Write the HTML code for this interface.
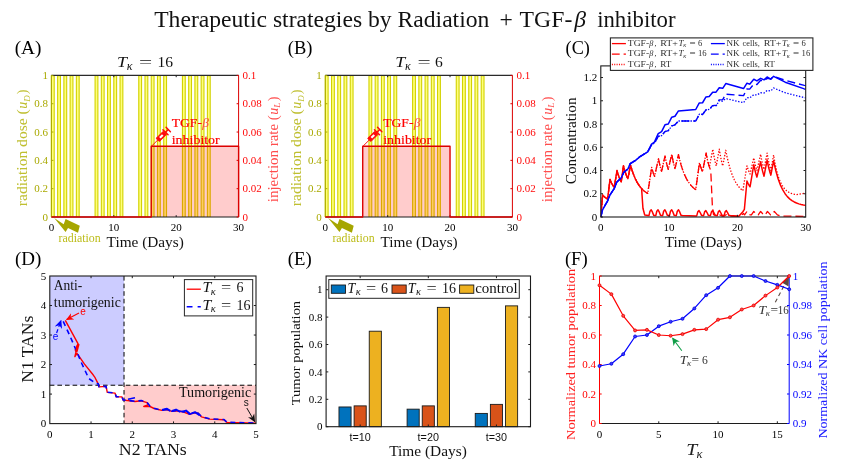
<!DOCTYPE html>
<html><head><meta charset="utf-8"><title>Therapeutic strategies by Radiation + TGF-β inhibitor</title>
<style>html,body{margin:0;padding:0;background:#fff}svg{display:block}text{white-space:pre}</style></head>
<body><svg width="843" height="468" viewBox="0 0 843 468">
<rect width="843" height="468" fill="#fff"/>
<text x="154.2" y="27.4" font-size="23.6" fill="#111" text-anchor="start" font-family='"Liberation Serif", serif' textLength="335.2" lengthAdjust="spacingAndGlyphs" >Therapeutic strategies by Radiation</text>
<text x="499.6" y="27.4" font-size="23.6" fill="#111" text-anchor="start" font-family='"Liberation Serif", serif' >+</text>
<text x="519.6" y="27.4" font-size="23.6" fill="#111" text-anchor="start" font-family='"Liberation Serif", serif' textLength="52.7" lengthAdjust="spacingAndGlyphs" >TGF-</text>
<text x="574.2" y="27.4" font-size="23.6" fill="#111" text-anchor="start" font-family='"Liberation Serif", serif' font-style="italic" >β</text>
<text x="597.2" y="27.4" font-size="23.6" fill="#111" text-anchor="start" font-family='"Liberation Serif", serif' textLength="78.3" lengthAdjust="spacingAndGlyphs" >inhibitor</text>
<path d="M51.4 217V75.8H54.21V217M57.64 217V75.8H60.45V217M63.88 217V75.8H66.69V217M70.12 217V75.8H72.93V217M76.36 217V75.8H79.17V217M95.08 217V75.8H97.89V217M101.32 217V75.8H104.13V217M107.56 217V75.8H110.37V217M113.8 217V75.8H116.61V217M120.04 217V75.8H122.85V217M138.76 217V75.8H141.57V217M145 217V75.8H147.81V217M151.24 217V75.8H154.05V217M157.48 217V75.8H160.29V217M163.72 217V75.8H166.53V217M182.44 217V75.8H185.25V217M188.68 217V75.8H191.49V217M194.92 217V75.8H197.73V217M201.16 217V75.8H203.97V217M207.4 217V75.8H210.21V217" fill="#ffff7a" stroke="#d2d200" stroke-width="1.1"/>
<rect x="151.24" y="146.2" width="87.36" height="70.8" fill="#ff0000" fill-opacity="0.2"/>
<line x1="51.4" y1="75.4" x2="238.6" y2="75.4" stroke="#2a2a2a" stroke-width="1.2" />
<line x1="51.4" y1="217" x2="238.6" y2="217" stroke="#1c1c1c" stroke-width="1" />
<line x1="51.4" y1="75.4" x2="51.4" y2="217" stroke="#a9a900" stroke-width="1" />
<line x1="238.6" y1="75.4" x2="238.6" y2="217" stroke="#dc0000" stroke-width="1" />
<line x1="113.8" y1="217" x2="113.8" y2="215.2" stroke="#1c1c1c" stroke-width="1" />
<line x1="113.8" y1="75.4" x2="113.8" y2="77.2" stroke="#1c1c1c" stroke-width="1" />
<line x1="176.2" y1="217" x2="176.2" y2="215.2" stroke="#1c1c1c" stroke-width="1" />
<line x1="176.2" y1="75.4" x2="176.2" y2="77.2" stroke="#1c1c1c" stroke-width="1" />
<line x1="51.4" y1="217" x2="53.4" y2="217" stroke="#a9a900" stroke-width="1" />
<line x1="238.6" y1="217" x2="236.6" y2="217" stroke="#dc0000" stroke-width="1" />
<line x1="51.4" y1="188.68" x2="53.4" y2="188.68" stroke="#a9a900" stroke-width="1" />
<line x1="238.6" y1="188.68" x2="236.6" y2="188.68" stroke="#dc0000" stroke-width="1" />
<line x1="51.4" y1="160.36" x2="53.4" y2="160.36" stroke="#a9a900" stroke-width="1" />
<line x1="238.6" y1="160.36" x2="236.6" y2="160.36" stroke="#dc0000" stroke-width="1" />
<line x1="51.4" y1="132.04" x2="53.4" y2="132.04" stroke="#a9a900" stroke-width="1" />
<line x1="238.6" y1="132.04" x2="236.6" y2="132.04" stroke="#dc0000" stroke-width="1" />
<line x1="51.4" y1="103.72" x2="53.4" y2="103.72" stroke="#a9a900" stroke-width="1" />
<line x1="238.6" y1="103.72" x2="236.6" y2="103.72" stroke="#dc0000" stroke-width="1" />
<line x1="51.4" y1="75.4" x2="53.4" y2="75.4" stroke="#a9a900" stroke-width="1" />
<line x1="238.6" y1="75.4" x2="236.6" y2="75.4" stroke="#dc0000" stroke-width="1" />
<polyline points="51.4,217 151.24,217 151.24,146.2 238.6,146.2 238.6,217 238.6,217" fill="none" stroke="#dc0000" stroke-width="1.4" stroke-linejoin="round" />
<text x="51.4" y="231.1" font-size="11" fill="#000" text-anchor="middle" font-family='"Liberation Serif", serif' >0</text>
<text x="113.8" y="231.1" font-size="11" fill="#000" text-anchor="middle" font-family='"Liberation Serif", serif' >10</text>
<text x="176.2" y="231.1" font-size="11" fill="#000" text-anchor="middle" font-family='"Liberation Serif", serif' >20</text>
<text x="238.6" y="231.1" font-size="11" fill="#000" text-anchor="middle" font-family='"Liberation Serif", serif' >30</text>
<text x="47.9" y="220.7" font-size="11" fill="#a9a900" text-anchor="end" font-family='"Liberation Serif", serif' >0</text>
<text x="47.9" y="192.38" font-size="11" fill="#a9a900" text-anchor="end" font-family='"Liberation Serif", serif' >0.2</text>
<text x="47.9" y="164.06" font-size="11" fill="#a9a900" text-anchor="end" font-family='"Liberation Serif", serif' >0.4</text>
<text x="47.9" y="135.74" font-size="11" fill="#a9a900" text-anchor="end" font-family='"Liberation Serif", serif' >0.6</text>
<text x="47.9" y="107.42" font-size="11" fill="#a9a900" text-anchor="end" font-family='"Liberation Serif", serif' >0.8</text>
<text x="47.9" y="79.1" font-size="11" fill="#a9a900" text-anchor="end" font-family='"Liberation Serif", serif' >1</text>
<text x="242.6" y="220.7" font-size="11" fill="#ff0a0a" text-anchor="start" font-family='"Liberation Serif", serif' >0</text>
<text x="242.6" y="192.38" font-size="11" fill="#ff0a0a" text-anchor="start" font-family='"Liberation Serif", serif' >0.02</text>
<text x="242.6" y="164.06" font-size="11" fill="#ff0a0a" text-anchor="start" font-family='"Liberation Serif", serif' >0.04</text>
<text x="242.6" y="135.74" font-size="11" fill="#ff0a0a" text-anchor="start" font-family='"Liberation Serif", serif' >0.06</text>
<text x="242.6" y="107.42" font-size="11" fill="#ff0a0a" text-anchor="start" font-family='"Liberation Serif", serif' >0.08</text>
<text x="242.6" y="79.1" font-size="11" fill="#ff0a0a" text-anchor="start" font-family='"Liberation Serif", serif' >0.1</text>
<text x="106.6" y="246.6" font-size="14" fill="#111" text-anchor="start" font-family='"Liberation Serif", serif' textLength="77.2" lengthAdjust="spacingAndGlyphs" >Time (Days)</text>
<g transform="translate(22.9 144.7) rotate(-90)">
<text x="-61.5" y="4.5" font-size="14" fill="#bfbf30" text-anchor="start" font-family='"Liberation Serif", serif' textLength="97" lengthAdjust="spacingAndGlyphs" >radiation dose (</text>
<text x="36" y="4.5" font-size="14" fill="#bfbf30" text-anchor="start" font-family='"Liberation Serif", serif' font-style="italic" >u</text>
<text x="43" y="7" font-size="9" fill="#bfbf30" text-anchor="start" font-family='"Liberation Serif", serif' font-style="italic" >D</text>
<text x="50.5" y="4.5" font-size="14" fill="#bfbf30" text-anchor="start" font-family='"Liberation Serif", serif' >)</text>
</g>
<g transform="translate(273.2 146.2) rotate(-90)">
<text x="-56" y="4.5" font-size="14" fill="#ff4d4d" text-anchor="start" font-family='"Liberation Serif", serif' textLength="87" lengthAdjust="spacingAndGlyphs" >injection rate (</text>
<text x="31.5" y="4.5" font-size="14" fill="#ff4d4d" text-anchor="start" font-family='"Liberation Serif", serif' font-style="italic" >u</text>
<text x="38.5" y="7" font-size="9" fill="#ff4d4d" text-anchor="start" font-family='"Liberation Serif", serif' font-style="italic" >L</text>
<text x="45" y="4.5" font-size="14" fill="#ff4d4d" text-anchor="start" font-family='"Liberation Serif", serif' >)</text>
</g>
<text x="14.7" y="53.6" font-size="18" fill="#000" text-anchor="start" font-family='"Liberation Serif", serif' textLength="26.8" lengthAdjust="spacingAndGlyphs" >(A)</text>
<text x="117" y="66.8" font-size="15.5" fill="#111" text-anchor="start" font-family='"Liberation Serif", serif' font-style="italic" textLength="10" lengthAdjust="spacingAndGlyphs" >T</text>
<text x="126.8" y="69.6" font-size="12" fill="#111" text-anchor="start" font-family='"Liberation Serif", serif' font-style="italic" >κ</text>
<text x="139.1" y="66.8" font-size="15.5" fill="#111" text-anchor="start" font-family='"Liberation Serif", serif' textLength="13.2" lengthAdjust="spacingAndGlyphs" >=</text>
<text x="157.6" y="66.8" font-size="15.5" fill="#111" text-anchor="start" font-family='"Liberation Serif", serif' >16</text>
<polygon points="54.2,218.1 63.7,224.2 65.6,219 79.8,225.7 78,232.8 68,228 65.6,232" fill="#a6a600"/>
<text x="58.5" y="242.3" font-size="12" fill="#bcbc18" text-anchor="start" font-family='"Liberation Serif", serif' textLength="42.2" lengthAdjust="spacingAndGlyphs" >radiation</text>
<text x="171.74" y="127.4" font-size="13.5" fill="#ff0000" text-anchor="start" font-family='"Liberation Serif", serif' textLength="30.2" lengthAdjust="spacingAndGlyphs" stroke="#ff0000" stroke-width="0.2">TGF-</text>
<text x="202.34" y="127.4" font-size="13.5" fill="#ff4a4a" text-anchor="start" font-family='"Liberation Serif", serif' font-style="italic" >β</text>
<text x="171.74" y="143.5" font-size="13.5" fill="#ff0000" text-anchor="start" font-family='"Liberation Serif", serif' textLength="48" lengthAdjust="spacingAndGlyphs" stroke="#ff0000" stroke-width="0.2">inhibitor</text>
<g transform="translate(151.94 145.8) rotate(-45) scale(0.9)" stroke="#ff0a0a" fill="none" stroke-linecap="round">
<line x1="0" y1="0" x2="9" y2="0" stroke-width="1"/>
<rect x="9" y="-2.6" width="11.5" height="5.2" rx="1" fill="#ff0a0a" stroke-width="0.8"/>
<rect x="12.5" y="-1.2" width="4.5" height="2.4" fill="#fff" stroke="none"/>
<line x1="21.3" y1="-4" x2="21.3" y2="4" stroke-width="1.6"/>
<line x1="21.3" y1="0" x2="25.3" y2="0" stroke-width="1.6"/>
<line x1="25.6" y1="-3.4" x2="25.6" y2="3.4" stroke-width="1.6"/>
</g>
<path d="M325.3 217V75.8H328.11V217M331.54 217V75.8H334.34V217M337.77 217V75.8H340.58V217M344.01 217V75.8H346.82V217M350.25 217V75.8H353.05V217M368.96 217V75.8H371.76V217M375.19 217V75.8H378V217M381.43 217V75.8H384.24V217M387.67 217V75.8H390.47V217M393.9 217V75.8H396.71V217M412.61 217V75.8H415.42V217M418.85 217V75.8H421.66V217M425.09 217V75.8H427.89V217M431.32 217V75.8H434.13V217M437.56 217V75.8H440.37V217M456.27 217V75.8H459.08V217M462.51 217V75.8H465.31V217M468.74 217V75.8H471.55V217M474.98 217V75.8H477.79V217M481.22 217V75.8H484.02V217" fill="#ffff7a" stroke="#d2d200" stroke-width="1.1"/>
<rect x="362.72" y="146.2" width="87.31" height="70.8" fill="#ff0000" fill-opacity="0.2"/>
<line x1="325.3" y1="75.4" x2="512.4" y2="75.4" stroke="#2a2a2a" stroke-width="1.2" />
<line x1="325.3" y1="217" x2="512.4" y2="217" stroke="#1c1c1c" stroke-width="1" />
<line x1="325.3" y1="75.4" x2="325.3" y2="217" stroke="#a9a900" stroke-width="1" />
<line x1="512.4" y1="75.4" x2="512.4" y2="217" stroke="#dc0000" stroke-width="1" />
<line x1="387.67" y1="217" x2="387.67" y2="215.2" stroke="#1c1c1c" stroke-width="1" />
<line x1="387.67" y1="75.4" x2="387.67" y2="77.2" stroke="#1c1c1c" stroke-width="1" />
<line x1="450.03" y1="217" x2="450.03" y2="215.2" stroke="#1c1c1c" stroke-width="1" />
<line x1="450.03" y1="75.4" x2="450.03" y2="77.2" stroke="#1c1c1c" stroke-width="1" />
<line x1="325.3" y1="217" x2="327.3" y2="217" stroke="#a9a900" stroke-width="1" />
<line x1="512.4" y1="217" x2="510.4" y2="217" stroke="#dc0000" stroke-width="1" />
<line x1="325.3" y1="188.68" x2="327.3" y2="188.68" stroke="#a9a900" stroke-width="1" />
<line x1="512.4" y1="188.68" x2="510.4" y2="188.68" stroke="#dc0000" stroke-width="1" />
<line x1="325.3" y1="160.36" x2="327.3" y2="160.36" stroke="#a9a900" stroke-width="1" />
<line x1="512.4" y1="160.36" x2="510.4" y2="160.36" stroke="#dc0000" stroke-width="1" />
<line x1="325.3" y1="132.04" x2="327.3" y2="132.04" stroke="#a9a900" stroke-width="1" />
<line x1="512.4" y1="132.04" x2="510.4" y2="132.04" stroke="#dc0000" stroke-width="1" />
<line x1="325.3" y1="103.72" x2="327.3" y2="103.72" stroke="#a9a900" stroke-width="1" />
<line x1="512.4" y1="103.72" x2="510.4" y2="103.72" stroke="#dc0000" stroke-width="1" />
<line x1="325.3" y1="75.4" x2="327.3" y2="75.4" stroke="#a9a900" stroke-width="1" />
<line x1="512.4" y1="75.4" x2="510.4" y2="75.4" stroke="#dc0000" stroke-width="1" />
<polyline points="325.3,217 362.72,217 362.72,146.2 450.03,146.2 450.03,217 512.4,217" fill="none" stroke="#dc0000" stroke-width="1.4" stroke-linejoin="round" />
<text x="325.3" y="231.1" font-size="11" fill="#000" text-anchor="middle" font-family='"Liberation Serif", serif' >0</text>
<text x="387.67" y="231.1" font-size="11" fill="#000" text-anchor="middle" font-family='"Liberation Serif", serif' >10</text>
<text x="450.03" y="231.1" font-size="11" fill="#000" text-anchor="middle" font-family='"Liberation Serif", serif' >20</text>
<text x="512.4" y="231.1" font-size="11" fill="#000" text-anchor="middle" font-family='"Liberation Serif", serif' >30</text>
<text x="321.8" y="220.7" font-size="11" fill="#a9a900" text-anchor="end" font-family='"Liberation Serif", serif' >0</text>
<text x="321.8" y="192.38" font-size="11" fill="#a9a900" text-anchor="end" font-family='"Liberation Serif", serif' >0.2</text>
<text x="321.8" y="164.06" font-size="11" fill="#a9a900" text-anchor="end" font-family='"Liberation Serif", serif' >0.4</text>
<text x="321.8" y="135.74" font-size="11" fill="#a9a900" text-anchor="end" font-family='"Liberation Serif", serif' >0.6</text>
<text x="321.8" y="107.42" font-size="11" fill="#a9a900" text-anchor="end" font-family='"Liberation Serif", serif' >0.8</text>
<text x="321.8" y="79.1" font-size="11" fill="#a9a900" text-anchor="end" font-family='"Liberation Serif", serif' >1</text>
<text x="516.4" y="220.7" font-size="11" fill="#ff0a0a" text-anchor="start" font-family='"Liberation Serif", serif' >0</text>
<text x="516.4" y="192.38" font-size="11" fill="#ff0a0a" text-anchor="start" font-family='"Liberation Serif", serif' >0.02</text>
<text x="516.4" y="164.06" font-size="11" fill="#ff0a0a" text-anchor="start" font-family='"Liberation Serif", serif' >0.04</text>
<text x="516.4" y="135.74" font-size="11" fill="#ff0a0a" text-anchor="start" font-family='"Liberation Serif", serif' >0.06</text>
<text x="516.4" y="107.42" font-size="11" fill="#ff0a0a" text-anchor="start" font-family='"Liberation Serif", serif' >0.08</text>
<text x="516.4" y="79.1" font-size="11" fill="#ff0a0a" text-anchor="start" font-family='"Liberation Serif", serif' >0.1</text>
<text x="380.5" y="246.6" font-size="14" fill="#111" text-anchor="start" font-family='"Liberation Serif", serif' textLength="77.2" lengthAdjust="spacingAndGlyphs" >Time (Days)</text>
<g transform="translate(296.8 144.7) rotate(-90)">
<text x="-61.5" y="4.5" font-size="14" fill="#bfbf30" text-anchor="start" font-family='"Liberation Serif", serif' textLength="97" lengthAdjust="spacingAndGlyphs" >radiation dose (</text>
<text x="36" y="4.5" font-size="14" fill="#bfbf30" text-anchor="start" font-family='"Liberation Serif", serif' font-style="italic" >u</text>
<text x="43" y="7" font-size="9" fill="#bfbf30" text-anchor="start" font-family='"Liberation Serif", serif' font-style="italic" >D</text>
<text x="50.5" y="4.5" font-size="14" fill="#bfbf30" text-anchor="start" font-family='"Liberation Serif", serif' >)</text>
</g>
<g transform="translate(547 146.2) rotate(-90)">
<text x="-56" y="4.5" font-size="14" fill="#ff4d4d" text-anchor="start" font-family='"Liberation Serif", serif' textLength="87" lengthAdjust="spacingAndGlyphs" >injection rate (</text>
<text x="31.5" y="4.5" font-size="14" fill="#ff4d4d" text-anchor="start" font-family='"Liberation Serif", serif' font-style="italic" >u</text>
<text x="38.5" y="7" font-size="9" fill="#ff4d4d" text-anchor="start" font-family='"Liberation Serif", serif' font-style="italic" >L</text>
<text x="45" y="4.5" font-size="14" fill="#ff4d4d" text-anchor="start" font-family='"Liberation Serif", serif' >)</text>
</g>
<text x="287.8" y="53.6" font-size="18" fill="#000" text-anchor="start" font-family='"Liberation Serif", serif' textLength="24.6" lengthAdjust="spacingAndGlyphs" >(B)</text>
<text x="395.3" y="66.8" font-size="15.5" fill="#111" text-anchor="start" font-family='"Liberation Serif", serif' font-style="italic" textLength="10" lengthAdjust="spacingAndGlyphs" >T</text>
<text x="405.1" y="69.6" font-size="12" fill="#111" text-anchor="start" font-family='"Liberation Serif", serif' font-style="italic" >κ</text>
<text x="417.4" y="66.8" font-size="15.5" fill="#111" text-anchor="start" font-family='"Liberation Serif", serif' textLength="13.2" lengthAdjust="spacingAndGlyphs" >=</text>
<text x="435" y="66.8" font-size="15.5" fill="#111" text-anchor="start" font-family='"Liberation Serif", serif' >6</text>
<polygon points="328.1,218.1 337.6,224.2 339.5,219 353.7,225.7 351.9,232.8 341.9,228 339.5,232" fill="#a6a600"/>
<text x="332.4" y="242.3" font-size="12" fill="#bcbc18" text-anchor="start" font-family='"Liberation Serif", serif' textLength="42.2" lengthAdjust="spacingAndGlyphs" >radiation</text>
<text x="383.22" y="127.4" font-size="13.5" fill="#ff0000" text-anchor="start" font-family='"Liberation Serif", serif' textLength="30.2" lengthAdjust="spacingAndGlyphs" stroke="#ff0000" stroke-width="0.2">TGF-</text>
<text x="413.82" y="127.4" font-size="13.5" fill="#ff4a4a" text-anchor="start" font-family='"Liberation Serif", serif' font-style="italic" >β</text>
<text x="383.22" y="143.5" font-size="13.5" fill="#ff0000" text-anchor="start" font-family='"Liberation Serif", serif' textLength="48" lengthAdjust="spacingAndGlyphs" stroke="#ff0000" stroke-width="0.2">inhibitor</text>
<g transform="translate(363.42 145.8) rotate(-45) scale(0.9)" stroke="#ff0a0a" fill="none" stroke-linecap="round">
<line x1="0" y1="0" x2="9" y2="0" stroke-width="1"/>
<rect x="9" y="-2.6" width="11.5" height="5.2" rx="1" fill="#ff0a0a" stroke-width="0.8"/>
<rect x="12.5" y="-1.2" width="4.5" height="2.4" fill="#fff" stroke="none"/>
<line x1="21.3" y1="-4" x2="21.3" y2="4" stroke-width="1.6"/>
<line x1="21.3" y1="0" x2="25.3" y2="0" stroke-width="1.6"/>
<line x1="25.6" y1="-3.4" x2="25.6" y2="3.4" stroke-width="1.6"/>
</g>
<clipPath id="cc"><rect x="600.8" y="65.9" width="204.9" height="152.1"/></clipPath><g clip-path="url(#cc)">
<polyline points="600.8,217 602.64,194.92 603,195.34 603.36,195.74 603.71,196.11 604.07,196.46 604.42,196.79 604.78,197.1 605.14,197.39 605.49,197.66 605.85,197.92 606.21,198.16 606.56,198.38 606.92,198.6 607.27,198.8 607.63,198.98 610.02,179.46 610.32,180.24 610.63,180.98 610.93,181.68 611.23,182.34 611.53,182.97 611.84,183.57 612.14,184.14 612.44,184.67 612.74,185.18 613.05,185.67 613.35,186.12 613.65,186.56 613.95,186.97 614.26,187.36 616.99,170.51 617.29,171.62 617.59,172.67 617.89,173.67 618.2,174.62 618.5,175.52 618.8,176.37 619.1,177.18 619.41,177.95 619.71,178.67 620.01,179.36 620.31,180.02 620.62,180.64 620.92,181.22 621.22,181.78 623.48,165.86 623.79,167.14 624.11,168.35 624.43,169.49 624.74,170.57 625.06,171.6 625.38,172.57 625.7,173.48 626.01,174.35 626.33,175.17 626.65,175.94 626.96,176.68 627.28,177.37 627.6,178.02 627.92,178.64 630.58,165.28 631.8,169.45 633.03,173.1 634.25,176.29 635.48,179.08 636.7,181.52 637.93,183.65 639.15,185.51 640.37,187.14 641.6,188.56 642.82,189.81 644.05,190.9 645.27,191.85 646.5,192.68 647.72,193.41 651.68,167.49 651.89,168.27 652.09,169.04 652.3,169.77 652.5,170.48 652.71,171.16 652.91,171.82 653.12,172.46 653.32,173.07 653.53,173.66 653.73,174.23 653.94,174.78 654.14,175.31 654.35,175.83 654.55,176.32 658.51,158.88 658.73,160.01 658.95,161.1 659.17,162.14 659.39,163.15 659.61,164.11 659.83,165.04 660.05,165.94 660.27,166.8 660.49,167.63 660.71,168.42 660.93,169.19 661.15,169.93 661.37,170.64 661.59,171.32 665,155.98 665.24,157.21 665.47,158.39 665.7,159.52 665.94,160.61 666.17,161.65 666.41,162.66 666.64,163.62 666.88,164.54 667.11,165.43 667.34,166.28 667.58,167.09 667.81,167.87 668.05,168.62 668.28,169.35 671.76,154.24 671.99,155.54 672.22,156.8 672.45,158.01 672.68,159.17 672.91,160.29 673.14,161.36 673.37,162.38 673.6,163.37 673.83,164.32 674.06,165.23 674.29,166.11 674.52,166.95 674.74,167.76 674.97,168.53 678.46,154.7 679.69,159.9 680.93,164.44 682.16,168.4 683.39,171.87 684.63,174.89 685.86,177.53 687.1,179.84 688.33,181.85 689.57,183.61 690.8,185.14 692.03,186.48 693.27,187.65 694.5,188.68 695.74,189.57 699.49,162.72 699.71,163.53 699.93,164.31 700.15,165.06 700.37,165.79 700.59,166.48 700.81,167.15 701.03,167.8 701.25,168.42 701.47,169.01 701.69,169.58 701.91,170.14 702.13,170.67 702.35,171.18 702.57,171.67 706.12,153.07 706.35,154.36 706.59,155.59 706.82,156.77 707.06,157.91 707.29,159 707.52,160.04 707.76,161.04 707.99,162.01 708.23,162.93 708.46,163.82 708.69,164.67 708.93,165.48 709.16,166.27 709.4,167.02 712.81,149.24 713.06,150.78 713.3,152.26 713.54,153.68 713.79,155.04 714.03,156.34 714.28,157.59 714.52,158.79 714.76,159.93 715.01,161.03 715.25,162.08 715.5,163.08 715.74,164.05 715.98,164.97 716.23,165.86 719.3,149.24 719.54,150.78 719.79,152.26 720.03,153.68 720.28,155.04 720.52,156.34 720.76,157.59 721.01,158.79 721.25,159.93 721.5,161.03 721.74,162.08 721.98,163.08 722.23,164.05 722.47,164.97 722.72,165.86 725.79,150.28 727.01,156.49 728.23,161.88 729.45,166.54 730.67,170.59 731.89,174.09 733.11,177.13 734.33,179.77 735.55,182.05 736.77,184.03 737.99,185.75 739.21,187.24 740.42,188.53 741.64,189.65 742.86,190.62 746.96,165.86 747.18,166.6 747.4,167.31 747.62,167.99 747.84,168.65 748.06,169.28 748.28,169.89 748.5,170.47 748.72,171.04 748.94,171.58 749.16,172.1 749.38,172.6 749.6,173.08 749.82,173.55 750.04,173.99 753.79,157.95 754.02,159.1 754.24,160.2 754.47,161.26 754.69,162.27 754.91,163.25 755.14,164.19 755.36,165.09 755.59,165.96 755.81,166.79 756.04,167.6 756.26,168.37 756.48,169.11 756.71,169.82 756.93,170.51 760.62,154.24 760.87,155.64 761.11,156.99 761.35,158.28 761.6,159.51 761.84,160.69 762.09,161.83 762.33,162.92 762.57,163.96 762.82,164.95 763.06,165.91 763.31,166.82 763.55,167.7 763.79,168.54 764.04,169.35 767.11,153.07 767.38,154.73 767.65,156.32 767.92,157.83 768.18,159.27 768.45,160.65 768.72,161.96 768.99,163.22 769.26,164.41 769.53,165.55 769.79,166.64 770.06,167.67 770.33,168.66 770.6,169.61 770.87,170.51 773.6,155.05 775.21,164.35 776.82,171.52 778.43,177.06 780.04,181.33 781.65,184.63 783.26,187.17 784.87,189.13 786.48,190.65 788.09,191.82 789.7,192.72 791.31,193.41 792.92,193.95 794.53,194.36 796.14,194.68 805.7,193.17" fill="none" stroke="#ff0000" stroke-width="1.3" stroke-linejoin="round" stroke-dasharray="1.4 1.6" />
<polyline points="600.8,217 602.64,194.92 603,195.34 603.36,195.74 603.71,196.11 604.07,196.46 604.42,196.79 604.78,197.1 605.14,197.39 605.49,197.66 605.85,197.92 606.21,198.16 606.56,198.38 606.92,198.6 607.27,198.8 607.63,198.98 610.02,179.46 610.32,180.24 610.63,180.98 610.93,181.68 611.23,182.34 611.53,182.97 611.84,183.57 612.14,184.14 612.44,184.67 612.74,185.18 613.05,185.67 613.35,186.12 613.65,186.56 613.95,186.97 614.26,187.36 616.99,170.51 617.29,171.62 617.59,172.67 617.89,173.67 618.2,174.62 618.5,175.52 618.8,176.37 619.1,177.18 619.41,177.95 619.71,178.67 620.01,179.36 620.31,180.02 620.62,180.64 620.92,181.22 621.22,181.78 623.48,165.86 623.79,167.14 624.11,168.35 624.43,169.49 624.74,170.57 625.06,171.6 625.38,172.57 625.7,173.48 626.01,174.35 626.33,175.17 626.65,175.94 626.96,176.68 627.28,177.37 627.6,178.02 627.92,178.64 630.58,165.28 631.8,169.45 633.03,173.1 634.25,176.29 635.48,179.08 636.7,181.52 637.93,183.65 639.15,185.51 640.37,187.14 641.6,188.56 642.82,189.81 644.05,190.9 645.27,191.85 646.5,192.68 647.72,193.41 651.68,167.49 651.89,168.27 652.09,169.04 652.3,169.77 652.5,170.48 652.71,171.16 652.91,171.82 653.12,172.46 653.32,173.07 653.53,173.66 653.73,174.23 653.94,174.78 654.14,175.31 654.35,175.83 654.55,176.32 658.51,158.88 658.73,160.01 658.95,161.1 659.17,162.14 659.39,163.15 659.61,164.11 659.83,165.04 660.05,165.94 660.27,166.8 660.49,167.63 660.71,168.42 660.93,169.19 661.15,169.93 661.37,170.64 661.59,171.32 665,155.98 665.24,157.21 665.47,158.39 665.7,159.52 665.94,160.61 666.17,161.65 666.41,162.66 666.64,163.62 666.88,164.54 667.11,165.43 667.34,166.28 667.58,167.09 667.81,167.87 668.05,168.62 668.28,169.35 671.76,154.24 671.99,155.54 672.22,156.8 672.45,158.01 672.68,159.17 672.91,160.29 673.14,161.36 673.37,162.38 673.6,163.37 673.83,164.32 674.06,165.23 674.29,166.11 674.52,166.95 674.74,167.76 674.97,168.53 678.46,154.7 679.69,159.9 680.93,164.44 682.16,168.4 683.39,171.87 684.63,174.89 685.86,177.53 687.1,179.84 688.33,181.85 689.57,183.61 690.8,185.14 692.03,186.48 693.27,187.65 694.5,188.68 695.74,189.57 699.49,162.72 699.71,163.53 699.93,164.31 700.15,165.06 700.37,165.79 700.59,166.48 700.81,167.15 701.03,167.8 701.25,168.42 701.47,169.01 701.69,169.58 701.91,170.14 702.13,170.67 702.35,171.18 702.57,171.67 706.12,153.07 706.35,154.36 706.59,155.59 706.82,156.77 707.06,157.91 707.29,159 707.52,160.04 707.76,161.04 707.99,162.01 708.23,162.93 708.46,163.82 708.69,164.67 708.93,165.48 709.16,166.27 709.4,167.02 710.76,170.51 712.33,205.38 713.5,214.68 716.91,216.07 717.25,216.07 719.3,214.68 722.37,216.07 724.08,216.07 726.13,214.68 729.2,216.07 740.13,216.3 743.55,213.51 744.57,214.91 746.96,211.42 750.04,214.91 751.4,214.91 753.79,211.42 756.87,214.91 758.23,214.91 760.62,211.42 763.7,214.91 765.06,214.91 767.45,211.42 770.53,214.91 771.89,214.91 774.28,211.42 777.36,214.91 781.11,216.07 805.7,216.42" fill="none" stroke="#ff0000" stroke-width="1.3" stroke-linejoin="round" stroke-dasharray="8 4" />
<polyline points="600.8,217 602.64,194.92 603,195.34 603.36,195.74 603.71,196.11 604.07,196.46 604.42,196.79 604.78,197.1 605.14,197.39 605.49,197.66 605.85,197.92 606.21,198.16 606.56,198.38 606.92,198.6 607.27,198.8 607.63,198.98 610.02,179.46 610.32,180.24 610.63,180.98 610.93,181.68 611.23,182.34 611.53,182.97 611.84,183.57 612.14,184.14 612.44,184.67 612.74,185.18 613.05,185.67 613.35,186.12 613.65,186.56 613.95,186.97 614.26,187.36 616.99,170.51 617.29,171.62 617.59,172.67 617.89,173.67 618.2,174.62 618.5,175.52 618.8,176.37 619.1,177.18 619.41,177.95 619.71,178.67 620.01,179.36 620.31,180.02 620.62,180.64 620.92,181.22 621.22,181.78 623.48,165.86 623.79,167.14 624.11,168.35 624.43,169.49 624.74,170.57 625.06,171.6 625.38,172.57 625.7,173.48 626.01,174.35 626.33,175.17 626.65,175.94 626.96,176.68 627.28,177.37 627.6,178.02 627.92,178.64 630.58,165.28 631.8,169.45 633.03,173.1 634.25,176.29 635.48,179.08 636.7,181.52 637.93,183.65 639.15,185.51 640.37,187.14 641.6,188.56 642.94,208.28 644.72,215.02 648.27,215.61 648.95,215.61 649.98,211.23 651.21,209.79 652.37,211.96 653.73,215.37 655.1,215.61 655.78,215.61 656.81,211.23 658.04,209.79 659.2,211.96 660.56,215.37 661.93,215.61 662.61,215.61 663.64,211.23 664.87,209.79 666.03,211.96 667.39,215.37 668.76,215.61 669.44,215.61 670.47,211.23 671.7,209.79 672.86,211.96 674.22,215.37 675.59,215.61 676.27,215.61 677.3,211.23 678.53,209.79 679.69,211.96 681.05,215.37 682.42,215.61 696.08,216.07 696.76,215.61 697.79,211.89 699.02,210.61 700.18,212.53 701.54,215.37 702.91,215.61 703.59,215.61 704.62,211.89 705.85,210.61 707.01,212.53 708.37,215.37 709.74,215.61 710.42,215.61 711.45,211.89 712.68,210.61 713.84,212.53 715.2,215.37 716.57,215.61 717.25,215.61 718.28,211.89 719.51,210.61 720.67,212.53 722.03,215.37 723.4,215.61 724.08,215.61 725.11,211.89 726.34,210.61 727.5,212.53 728.86,215.37 730.23,215.61 738.77,216.3 742.86,211.77 744.37,209.44 746.96,180.97 747.18,181.5 747.4,182 747.62,182.49 747.84,182.96 748.06,183.41 748.28,183.85 748.5,184.26 748.72,184.67 748.94,185.05 749.16,185.43 749.38,185.78 749.6,186.13 749.82,186.46 750.04,186.78 753.79,164.7 754.02,165.83 754.24,166.92 754.47,167.97 754.69,168.97 754.91,169.94 755.14,170.87 755.36,171.77 755.59,172.63 755.81,173.45 756.04,174.25 756.26,175.01 756.48,175.75 756.71,176.45 756.93,177.13 760.62,161.79 760.87,163.13 761.11,164.41 761.35,165.64 761.6,166.82 761.84,167.95 762.09,169.03 762.33,170.07 762.57,171.06 762.82,172.01 763.06,172.92 763.31,173.8 763.55,174.63 763.79,175.44 764.04,176.2 767.11,160.05 767.38,161.49 767.65,162.86 767.92,164.17 768.18,165.42 768.45,166.61 768.72,167.75 768.99,168.84 769.26,169.87 769.53,170.86 769.79,171.8 770.06,172.7 770.33,173.56 770.6,174.38 770.87,175.16 773.6,160.86 775.89,171.07 778.18,179.01 780.48,185.18 782.77,189.97 785.06,193.7 787.36,196.6 789.65,198.86 791.94,200.61 794.24,201.97 796.53,203.03 798.82,203.85 801.11,204.49 803.41,204.99 805.7,205.38" fill="none" stroke="#ff0000" stroke-width="1.5" stroke-linejoin="round" />
<polyline points="600.8,217 602.51,209.79 607.63,200.84 610.02,194.92 614.46,188.17 616.71,182.13 621.29,177.71 623.68,172.48 628.12,168.76 630.17,163.53 635.43,160.51 640,156.56 647.72,151.79 651.55,144.94 654.42,143.19 658.24,136.34 661.59,135.64 665,131.57 668.28,130.64 671.76,125.88 674.97,124.83 678.46,120.99 695.74,120.99 699.49,114.02 702.57,114.48 705.98,109.84 709.67,109.25 712.47,105.88 716.43,105.65 719.1,100.77 722.72,101.12 725.79,98.56 743.55,102.75 746.96,97.63 749.69,97.86 753.79,94.73 756.93,94.96 760.62,92.75 764.04,92.98 767.11,90.42 770.87,90.89 773.6,87.98 785.21,92.75 804.33,97.63 805.7,97.86" fill="none" stroke="#0000ff" stroke-width="1.3" stroke-linejoin="round" stroke-dasharray="1.4 1.6" />
<polyline points="600.8,217 602.51,209.79 607.63,200.84 610.02,194.92 614.46,188.17 616.71,182.13 621.29,177.71 623.68,172.48 628.12,168.76 630.17,163.53 635.43,160.51 640,156.56 647.72,151.79 651.55,144.94 654.42,143.19 658.24,136.34 661.59,135.64 665,131.57 668.28,130.64 671.76,125.88 674.97,124.83 678.46,120.99 695.74,120.99 699.49,114.02 702.57,114.48 705.98,109.84 709.67,109.25 712.47,105.65 716.43,105.19 719.1,99.84 722.72,99.61 725.79,94.14 743.55,95.66 746.96,88.91 749.69,89.15 753.79,84.15 756.93,84.5 760.62,80.31 764.04,81.01 767.11,78.34 770.87,78.69 773.6,76.36 785.21,80.31 804.33,85.43 805.7,85.66" fill="none" stroke="#0000ff" stroke-width="1.4" stroke-linejoin="round" stroke-dasharray="8 4" />
<polyline points="600.8,217 602.51,209.79 607.63,200.84 610.02,194.92 614.46,188.17 616.71,182.13 621.29,177.71 623.68,172.48 628.12,168.76 630.17,163.53 635.43,160.51 640,156.56 647.72,151.79 651.55,144.12 654.42,142.15 658.24,133.55 661.59,131.57 665,124.83 668.28,124.02 671.76,117.16 674.97,116.23 678.46,110.88 695.74,109.49 699.15,103.09 702.57,102.75 705.98,96.93 709.19,96.58 712.68,92.17 716.02,92.17 719.23,87.75 722.72,88.33 725.79,83.57 743.55,88.56 746.96,83.22 749.69,84.15 753.79,79.27 756.93,80.89 760.62,78.34 764.04,79.85 767.11,76.94 770.87,79.27 773.6,76.36 785.21,82.17 804.33,88.91 805.7,89.15" fill="none" stroke="#0000ff" stroke-width="1.5" stroke-linejoin="round" />
</g>
<rect x="600.8" y="65.9" width="204.9" height="151.1" fill="none" stroke="#1c1c1c" stroke-width="1.1"/>
<line x1="669.1" y1="217" x2="669.1" y2="214.8" stroke="#1c1c1c" stroke-width="1" />
<line x1="669.1" y1="65.9" x2="669.1" y2="68.1" stroke="#1c1c1c" stroke-width="1" />
<line x1="737.4" y1="217" x2="737.4" y2="214.8" stroke="#1c1c1c" stroke-width="1" />
<line x1="737.4" y1="65.9" x2="737.4" y2="68.1" stroke="#1c1c1c" stroke-width="1" />
<line x1="600.8" y1="217" x2="603" y2="217" stroke="#1c1c1c" stroke-width="1" />
<line x1="805.7" y1="217" x2="803.5" y2="217" stroke="#1c1c1c" stroke-width="1" />
<line x1="600.8" y1="193.75" x2="603" y2="193.75" stroke="#1c1c1c" stroke-width="1" />
<line x1="805.7" y1="193.75" x2="803.5" y2="193.75" stroke="#1c1c1c" stroke-width="1" />
<line x1="600.8" y1="170.51" x2="603" y2="170.51" stroke="#1c1c1c" stroke-width="1" />
<line x1="805.7" y1="170.51" x2="803.5" y2="170.51" stroke="#1c1c1c" stroke-width="1" />
<line x1="600.8" y1="147.26" x2="603" y2="147.26" stroke="#1c1c1c" stroke-width="1" />
<line x1="805.7" y1="147.26" x2="803.5" y2="147.26" stroke="#1c1c1c" stroke-width="1" />
<line x1="600.8" y1="124.02" x2="603" y2="124.02" stroke="#1c1c1c" stroke-width="1" />
<line x1="805.7" y1="124.02" x2="803.5" y2="124.02" stroke="#1c1c1c" stroke-width="1" />
<line x1="600.8" y1="100.77" x2="603" y2="100.77" stroke="#1c1c1c" stroke-width="1" />
<line x1="805.7" y1="100.77" x2="803.5" y2="100.77" stroke="#1c1c1c" stroke-width="1" />
<line x1="600.8" y1="77.52" x2="603" y2="77.52" stroke="#1c1c1c" stroke-width="1" />
<line x1="805.7" y1="77.52" x2="803.5" y2="77.52" stroke="#1c1c1c" stroke-width="1" />
<text x="600.8" y="231.1" font-size="11" fill="#000" text-anchor="middle" font-family='"Liberation Serif", serif' >0</text>
<text x="669.1" y="231.1" font-size="11" fill="#000" text-anchor="middle" font-family='"Liberation Serif", serif' >10</text>
<text x="737.4" y="231.1" font-size="11" fill="#000" text-anchor="middle" font-family='"Liberation Serif", serif' >20</text>
<text x="805.7" y="231.1" font-size="11" fill="#000" text-anchor="middle" font-family='"Liberation Serif", serif' >30</text>
<text x="597.3" y="220.7" font-size="11" fill="#000" text-anchor="end" font-family='"Liberation Serif", serif' >0</text>
<text x="597.3" y="197.45" font-size="11" fill="#000" text-anchor="end" font-family='"Liberation Serif", serif' >0.2</text>
<text x="597.3" y="174.21" font-size="11" fill="#000" text-anchor="end" font-family='"Liberation Serif", serif' >0.4</text>
<text x="597.3" y="150.96" font-size="11" fill="#000" text-anchor="end" font-family='"Liberation Serif", serif' >0.6</text>
<text x="597.3" y="127.72" font-size="11" fill="#000" text-anchor="end" font-family='"Liberation Serif", serif' >0.8</text>
<text x="597.3" y="104.47" font-size="11" fill="#000" text-anchor="end" font-family='"Liberation Serif", serif' >1</text>
<text x="597.3" y="81.22" font-size="11" fill="#000" text-anchor="end" font-family='"Liberation Serif", serif' >1.2</text>
<text x="664.65" y="246.6" font-size="14" fill="#111" text-anchor="start" font-family='"Liberation Serif", serif' textLength="77.2" lengthAdjust="spacingAndGlyphs" >Time (Days)</text>
<g transform="translate(571.9 140.8) rotate(-90)">
<text x="-43.5" y="4.5" font-size="14.5" fill="#111" text-anchor="start" font-family='"Liberation Serif", serif' textLength="87" lengthAdjust="spacingAndGlyphs" >Concentration</text>
</g>
<text x="565.6" y="53.5" font-size="18" fill="#000" text-anchor="start" font-family='"Liberation Serif", serif' textLength="24.2" lengthAdjust="spacingAndGlyphs" >(C)</text>
<rect x="610.4" y="37.9" width="202.5" height="32.5" fill="#fff" stroke="#262626" stroke-width="1.1"/>
<line x1="611.9" y1="43.6" x2="625.9" y2="43.6" stroke="#ff0000" stroke-width="1.3" />
<line x1="611.9" y1="54.1" x2="625.9" y2="54.1" stroke="#ff0000" stroke-width="1.3" stroke-dasharray="7.8 3.9"/>
<line x1="611.9" y1="64.5" x2="625.9" y2="64.5" stroke="#ff0000" stroke-width="1.3" stroke-dasharray="1 1.35"/>
<line x1="710.9" y1="43.6" x2="724.8" y2="43.6" stroke="#0000ff" stroke-width="1.3" />
<line x1="710.9" y1="54.1" x2="724.8" y2="54.1" stroke="#0000ff" stroke-width="1.3" stroke-dasharray="7.8 3.9"/>
<line x1="710.9" y1="64.5" x2="724.8" y2="64.5" stroke="#0000ff" stroke-width="1.3" stroke-dasharray="1 1.35"/>
<text x="627.8" y="46" font-size="8.2" fill="#2e2e2e" text-anchor="start" font-family='"Liberation Serif", serif' textLength="21.3" lengthAdjust="spacingAndGlyphs" >TGF-</text>
<text x="649.2" y="46" font-size="8.2" fill="#2e2e2e" text-anchor="start" font-family='"Liberation Serif", serif' font-style="italic" >β</text>
<text x="654.4" y="46" font-size="8.2" fill="#2e2e2e" text-anchor="start" font-family='"Liberation Serif", serif' >,</text>
<text x="660.2" y="46" font-size="8.2" fill="#2e2e2e" text-anchor="start" font-family='"Liberation Serif", serif' textLength="17.8" lengthAdjust="spacingAndGlyphs" >RT+</text>
<text x="678.5" y="46" font-size="8.2" fill="#2e2e2e" text-anchor="start" font-family='"Liberation Serif", serif' font-style="italic" textLength="5" lengthAdjust="spacingAndGlyphs" >T</text>
<text x="683.2" y="47.4" font-size="6.2" fill="#2e2e2e" text-anchor="start" font-family='"Liberation Serif", serif' font-style="italic" >κ</text>
<text x="689.6" y="46" font-size="8.2" fill="#2e2e2e" text-anchor="start" font-family='"Liberation Serif", serif' textLength="6.1" lengthAdjust="spacingAndGlyphs" >=</text>
<text x="698" y="46" font-size="8.2" fill="#2e2e2e" text-anchor="start" font-family='"Liberation Serif", serif' textLength="4.3" lengthAdjust="spacingAndGlyphs" >6</text>
<text x="627.8" y="56.4" font-size="8.2" fill="#2e2e2e" text-anchor="start" font-family='"Liberation Serif", serif' textLength="21.3" lengthAdjust="spacingAndGlyphs" >TGF-</text>
<text x="649.2" y="56.4" font-size="8.2" fill="#2e2e2e" text-anchor="start" font-family='"Liberation Serif", serif' font-style="italic" >β</text>
<text x="654.4" y="56.4" font-size="8.2" fill="#2e2e2e" text-anchor="start" font-family='"Liberation Serif", serif' >,</text>
<text x="660.2" y="56.4" font-size="8.2" fill="#2e2e2e" text-anchor="start" font-family='"Liberation Serif", serif' textLength="17.8" lengthAdjust="spacingAndGlyphs" >RT+</text>
<text x="678.5" y="56.4" font-size="8.2" fill="#2e2e2e" text-anchor="start" font-family='"Liberation Serif", serif' font-style="italic" textLength="5" lengthAdjust="spacingAndGlyphs" >T</text>
<text x="683.2" y="57.8" font-size="6.2" fill="#2e2e2e" text-anchor="start" font-family='"Liberation Serif", serif' font-style="italic" >κ</text>
<text x="689.6" y="56.4" font-size="8.2" fill="#2e2e2e" text-anchor="start" font-family='"Liberation Serif", serif' textLength="6.1" lengthAdjust="spacingAndGlyphs" >=</text>
<text x="698" y="56.4" font-size="8.2" fill="#2e2e2e" text-anchor="start" font-family='"Liberation Serif", serif' textLength="8.7" lengthAdjust="spacingAndGlyphs" >16</text>
<text x="627.8" y="66.6" font-size="8.2" fill="#2e2e2e" text-anchor="start" font-family='"Liberation Serif", serif' textLength="21.3" lengthAdjust="spacingAndGlyphs" >TGF-</text>
<text x="649.2" y="66.6" font-size="8.2" fill="#2e2e2e" text-anchor="start" font-family='"Liberation Serif", serif' font-style="italic" >β</text>
<text x="654.4" y="66.6" font-size="8.2" fill="#2e2e2e" text-anchor="start" font-family='"Liberation Serif", serif' >,</text>
<text x="660.2" y="66.6" font-size="8.2" fill="#2e2e2e" text-anchor="start" font-family='"Liberation Serif", serif' textLength="11.2" lengthAdjust="spacingAndGlyphs" >RT</text>
<text x="726.5" y="46" font-size="8.2" fill="#2e2e2e" text-anchor="start" font-family='"Liberation Serif", serif' textLength="13.1" lengthAdjust="spacingAndGlyphs" >NK</text>
<text x="742.6" y="46" font-size="8.2" fill="#2e2e2e" text-anchor="start" font-family='"Liberation Serif", serif' textLength="17.2" lengthAdjust="spacingAndGlyphs" >cells,</text>
<text x="763.7" y="46" font-size="8.2" fill="#2e2e2e" text-anchor="start" font-family='"Liberation Serif", serif' textLength="17.8" lengthAdjust="spacingAndGlyphs" >RT+</text>
<text x="782" y="46" font-size="8.2" fill="#2e2e2e" text-anchor="start" font-family='"Liberation Serif", serif' font-style="italic" textLength="5" lengthAdjust="spacingAndGlyphs" >T</text>
<text x="786.8" y="47.4" font-size="6.2" fill="#2e2e2e" text-anchor="start" font-family='"Liberation Serif", serif' font-style="italic" >κ</text>
<text x="793.1" y="46" font-size="8.2" fill="#2e2e2e" text-anchor="start" font-family='"Liberation Serif", serif' textLength="6.1" lengthAdjust="spacingAndGlyphs" >=</text>
<text x="801.6" y="46" font-size="8.2" fill="#2e2e2e" text-anchor="start" font-family='"Liberation Serif", serif' textLength="4.3" lengthAdjust="spacingAndGlyphs" >6</text>
<text x="726.5" y="56.4" font-size="8.2" fill="#2e2e2e" text-anchor="start" font-family='"Liberation Serif", serif' textLength="13.1" lengthAdjust="spacingAndGlyphs" >NK</text>
<text x="742.6" y="56.4" font-size="8.2" fill="#2e2e2e" text-anchor="start" font-family='"Liberation Serif", serif' textLength="17.2" lengthAdjust="spacingAndGlyphs" >cells,</text>
<text x="763.7" y="56.4" font-size="8.2" fill="#2e2e2e" text-anchor="start" font-family='"Liberation Serif", serif' textLength="17.8" lengthAdjust="spacingAndGlyphs" >RT+</text>
<text x="782" y="56.4" font-size="8.2" fill="#2e2e2e" text-anchor="start" font-family='"Liberation Serif", serif' font-style="italic" textLength="5" lengthAdjust="spacingAndGlyphs" >T</text>
<text x="786.8" y="57.8" font-size="6.2" fill="#2e2e2e" text-anchor="start" font-family='"Liberation Serif", serif' font-style="italic" >κ</text>
<text x="793.1" y="56.4" font-size="8.2" fill="#2e2e2e" text-anchor="start" font-family='"Liberation Serif", serif' textLength="6.1" lengthAdjust="spacingAndGlyphs" >=</text>
<text x="801.6" y="56.4" font-size="8.2" fill="#2e2e2e" text-anchor="start" font-family='"Liberation Serif", serif' textLength="8.7" lengthAdjust="spacingAndGlyphs" >16</text>
<text x="726.5" y="66.6" font-size="8.2" fill="#2e2e2e" text-anchor="start" font-family='"Liberation Serif", serif' textLength="13.1" lengthAdjust="spacingAndGlyphs" >NK</text>
<text x="742.6" y="66.6" font-size="8.2" fill="#2e2e2e" text-anchor="start" font-family='"Liberation Serif", serif' textLength="17.2" lengthAdjust="spacingAndGlyphs" >cells,</text>
<text x="763.7" y="66.6" font-size="8.2" fill="#2e2e2e" text-anchor="start" font-family='"Liberation Serif", serif' textLength="11.2" lengthAdjust="spacingAndGlyphs" >RT</text>
<rect x="49.8" y="276" width="74.23" height="109.22" fill="#ccccff"/>
<rect x="124.03" y="385.22" width="131.97" height="38.38" fill="#ffcccc"/>
<line x1="124.03" y1="276" x2="124.03" y2="423.6" stroke="#000" stroke-width="1" stroke-dasharray="4.6 3"/>
<line x1="49.8" y1="385.22" x2="256" y2="385.22" stroke="#000" stroke-width="1" stroke-dasharray="4.6 3"/>
<polyline points="65.3,320.3 78.1,343.8 76.3,347.5 75.2,350 77.6,346 76,352 74.9,356.6 77,353.4 84.5,364.1 93.1,374.8 95.1,377.7 98.3,384.1 99,386.9 106,386.4 107.3,392.4 115,393.1 116.3,396.9 122,396.9 123.1,400.1 129.7,400.8 135,401.5 141.3,400.8 147.1,402.7 148.3,404.6 143.8,406.5 150,406.5 154.1,408.5 161.8,410.4 166,409.6 171.9,411.4 177,410.8 183.7,412 189.7,414.4 194,412.8 198,413.2 201.5,416.8 209.8,419.1 224,419.7 227,422.5 256,423.3" fill="none" stroke="#ff0000" stroke-width="1.4" stroke-linejoin="round" />
<polyline points="63.2,321.4 70,336 76,350 82,364 88.8,378.5 95.5,383.2 98.3,383.9 99,386.7 106,386.2 107.3,392.2 115,392.9 116.3,396.7 122,396.7 123.1,399.9 129.7,400.6 135,401.3 141.3,400.6 147.1,402.5 150,406.3 154.1,408.3 161.8,410.2 166,409.4 171.9,411.2 177,410.6 183.7,411.8 189.7,414.2 194,412.6 198,413 201.5,416.6 209.8,418.9 224,419.5 227,422.3 256,423.1" fill="none" stroke="#0000ff" stroke-width="1.6" stroke-linejoin="round" stroke-dasharray="5 4" />
<polyline points="76.2,352 78.4,344" fill="none" stroke="#ff0000" stroke-width="2.6" stroke-linejoin="round" />
<polyline points="162,410 167,408.8 171,411.2 176,409.6 181,412.2 186,410.6 190,414 195,412.2 200,415.6" fill="none" stroke="#0000ff" stroke-width="2.0" stroke-linejoin="round" stroke-dasharray="9 2" />
<polyline points="128,399.2 135,397.8" fill="none" stroke="#0000ff" stroke-width="1.6" stroke-linejoin="round" />
<rect x="49.8" y="276" width="206.2" height="147.6" fill="none" stroke="#1c1c1c" stroke-width="1.1"/>
<line x1="91.04" y1="423.6" x2="91.04" y2="421.4" stroke="#1c1c1c" stroke-width="1" />
<line x1="91.04" y1="276" x2="91.04" y2="278.2" stroke="#1c1c1c" stroke-width="1" />
<line x1="49.8" y1="394.08" x2="52" y2="394.08" stroke="#1c1c1c" stroke-width="1" />
<line x1="256" y1="394.08" x2="253.8" y2="394.08" stroke="#1c1c1c" stroke-width="1" />
<line x1="132.28" y1="423.6" x2="132.28" y2="421.4" stroke="#1c1c1c" stroke-width="1" />
<line x1="132.28" y1="276" x2="132.28" y2="278.2" stroke="#1c1c1c" stroke-width="1" />
<line x1="49.8" y1="364.56" x2="52" y2="364.56" stroke="#1c1c1c" stroke-width="1" />
<line x1="256" y1="364.56" x2="253.8" y2="364.56" stroke="#1c1c1c" stroke-width="1" />
<line x1="173.52" y1="423.6" x2="173.52" y2="421.4" stroke="#1c1c1c" stroke-width="1" />
<line x1="173.52" y1="276" x2="173.52" y2="278.2" stroke="#1c1c1c" stroke-width="1" />
<line x1="49.8" y1="335.04" x2="52" y2="335.04" stroke="#1c1c1c" stroke-width="1" />
<line x1="256" y1="335.04" x2="253.8" y2="335.04" stroke="#1c1c1c" stroke-width="1" />
<line x1="214.76" y1="423.6" x2="214.76" y2="421.4" stroke="#1c1c1c" stroke-width="1" />
<line x1="214.76" y1="276" x2="214.76" y2="278.2" stroke="#1c1c1c" stroke-width="1" />
<line x1="49.8" y1="305.52" x2="52" y2="305.52" stroke="#1c1c1c" stroke-width="1" />
<line x1="256" y1="305.52" x2="253.8" y2="305.52" stroke="#1c1c1c" stroke-width="1" />
<text x="49.8" y="437.8" font-size="11" fill="#000" text-anchor="middle" font-family='"Liberation Serif", serif' >0</text>
<text x="46.3" y="427.3" font-size="11" fill="#000" text-anchor="end" font-family='"Liberation Serif", serif' >0</text>
<text x="91.04" y="437.8" font-size="11" fill="#000" text-anchor="middle" font-family='"Liberation Serif", serif' >1</text>
<text x="46.3" y="397.78" font-size="11" fill="#000" text-anchor="end" font-family='"Liberation Serif", serif' >1</text>
<text x="132.28" y="437.8" font-size="11" fill="#000" text-anchor="middle" font-family='"Liberation Serif", serif' >2</text>
<text x="46.3" y="368.26" font-size="11" fill="#000" text-anchor="end" font-family='"Liberation Serif", serif' >2</text>
<text x="173.52" y="437.8" font-size="11" fill="#000" text-anchor="middle" font-family='"Liberation Serif", serif' >3</text>
<text x="46.3" y="338.74" font-size="11" fill="#000" text-anchor="end" font-family='"Liberation Serif", serif' >3</text>
<text x="214.76" y="437.8" font-size="11" fill="#000" text-anchor="middle" font-family='"Liberation Serif", serif' >4</text>
<text x="46.3" y="309.22" font-size="11" fill="#000" text-anchor="end" font-family='"Liberation Serif", serif' >4</text>
<text x="256" y="437.8" font-size="11" fill="#000" text-anchor="middle" font-family='"Liberation Serif", serif' >5</text>
<text x="46.3" y="279.7" font-size="11" fill="#000" text-anchor="end" font-family='"Liberation Serif", serif' >5</text>
<text x="118.8" y="454.6" font-size="16" fill="#111" text-anchor="start" font-family='"Liberation Serif", serif' textLength="68" lengthAdjust="spacingAndGlyphs" >N2 TANs</text>
<g transform="translate(27.5 349.2) rotate(-90)">
<text x="-33.6" y="5.3" font-size="16" fill="#111" text-anchor="start" font-family='"Liberation Serif", serif' textLength="67.2" lengthAdjust="spacingAndGlyphs" >N1 TANs</text>
</g>
<text x="14.9" y="264.6" font-size="18" fill="#000" text-anchor="start" font-family='"Liberation Serif", serif' textLength="26.4" lengthAdjust="spacingAndGlyphs" >(D)</text>
<text x="53.8" y="289.8" font-size="14" fill="#111" text-anchor="start" font-family='"Liberation Serif", serif' textLength="28.5" lengthAdjust="spacingAndGlyphs" >Anti-</text>
<text x="53.8" y="306.6" font-size="14" fill="#111" text-anchor="start" font-family='"Liberation Serif", serif' textLength="67" lengthAdjust="spacingAndGlyphs" >tumorigenic</text>
<text x="179" y="397.2" font-size="14" fill="#111" text-anchor="start" font-family='"Liberation Serif", serif' textLength="72.3" lengthAdjust="spacingAndGlyphs" >Tumorigenic</text>
<rect x="184.4" y="279.6" width="68.3" height="36.3" fill="#fff" stroke="#262626" stroke-width="1"/>
<line x1="186.7" y1="289.2" x2="200.8" y2="289.2" stroke="#ff0000" stroke-width="1.3" />
<line x1="186.7" y1="306.8" x2="200.8" y2="306.8" stroke="#0000ff" stroke-width="1.4" stroke-dasharray="5.8 5.1"/>
<text x="202.4" y="292.4" font-size="14" fill="#111" text-anchor="start" font-family='"Liberation Serif", serif' font-style="italic" textLength="8.8" lengthAdjust="spacingAndGlyphs" >T</text>
<text x="210.7" y="294.6" font-size="10.5" fill="#111" text-anchor="start" font-family='"Liberation Serif", serif' font-style="italic" >κ</text>
<text x="221" y="292.4" font-size="14" fill="#111" text-anchor="start" font-family='"Liberation Serif", serif' textLength="10.2" lengthAdjust="spacingAndGlyphs" >=</text>
<text x="236.4" y="292.4" font-size="14" fill="#111" text-anchor="start" font-family='"Liberation Serif", serif' >6</text>
<text x="202.4" y="310" font-size="14" fill="#111" text-anchor="start" font-family='"Liberation Serif", serif' font-style="italic" textLength="8.8" lengthAdjust="spacingAndGlyphs" >T</text>
<text x="210.7" y="312.2" font-size="10.5" fill="#111" text-anchor="start" font-family='"Liberation Serif", serif' font-style="italic" >κ</text>
<text x="221" y="310" font-size="14" fill="#111" text-anchor="start" font-family='"Liberation Serif", serif' textLength="10.2" lengthAdjust="spacingAndGlyphs" >=</text>
<text x="236.4" y="310" font-size="14" fill="#111" text-anchor="start" font-family='"Liberation Serif", serif' >16</text>
<defs><marker id="ar" viewBox="0 0 10 10" refX="9" refY="5" markerWidth="7" markerHeight="7" orient="auto"><path d="M0 0.5L10 5L0 9.5L3 5z" fill="#ff0000"/></marker>
<marker id="ab" viewBox="0 0 10 10" refX="9" refY="5" markerWidth="7" markerHeight="7" orient="auto"><path d="M0 0.5L10 5L0 9.5L3 5z" fill="#0000ff"/></marker>
<marker id="ak" viewBox="0 0 10 10" refX="9" refY="5" markerWidth="8" markerHeight="8" orient="auto"><path d="M0 0.5L10 5L0 9.5L3 5z" fill="#111"/></marker>
<marker id="ag" viewBox="0 0 10 10" refX="9" refY="5" markerWidth="7" markerHeight="7" orient="auto"><path d="M0 0L10 5L0 10L3 5z" fill="#0f9d46"/></marker></defs>
<line x1="79" y1="313" x2="66.6" y2="319.6" stroke="#ff0000" stroke-width="1.1" marker-end="url(#ar)"/>
<text x="80.3" y="314.8" font-size="10" fill="#ff0000" text-anchor="start" font-family='"Liberation Sans", sans-serif' >e</text>
<line x1="56.6" y1="333" x2="61" y2="320.6" stroke="#0000ff" stroke-width="1.2" stroke-dasharray="4 2.5" marker-end="url(#ab)"/>
<text x="52.8" y="339.5" font-size="10" fill="#0000ff" text-anchor="start" font-family='"Liberation Sans", sans-serif' >e</text>
<line x1="246.8" y1="408" x2="254.7" y2="421.6" stroke="#111" stroke-width="1" marker-end="url(#ak)"/>
<text x="243.8" y="406.4" font-size="10" fill="#111" text-anchor="start" font-family='"Liberation Sans", sans-serif' >s</text>
<rect x="338.97" y="406.97" width="12.11" height="19.73" fill="#0072bd" stroke="#1a1a1a" stroke-width="0.9"/>
<rect x="354.11" y="405.88" width="12.11" height="20.82" fill="#d95319" stroke="#1a1a1a" stroke-width="0.9"/>
<rect x="369.25" y="331.21" width="12.11" height="95.49" fill="#edb120" stroke="#1a1a1a" stroke-width="0.9"/>
<rect x="407.1" y="409.16" width="12.11" height="17.54" fill="#0072bd" stroke="#1a1a1a" stroke-width="0.9"/>
<rect x="422.24" y="405.88" width="12.11" height="20.82" fill="#d95319" stroke="#1a1a1a" stroke-width="0.9"/>
<rect x="437.38" y="307.37" width="12.11" height="119.33" fill="#edb120" stroke="#1a1a1a" stroke-width="0.9"/>
<rect x="475.24" y="413.41" width="12.11" height="13.29" fill="#0072bd" stroke="#1a1a1a" stroke-width="0.9"/>
<rect x="490.38" y="404.37" width="12.11" height="22.33" fill="#d95319" stroke="#1a1a1a" stroke-width="0.9"/>
<rect x="505.52" y="305.87" width="12.11" height="120.83" fill="#edb120" stroke="#1a1a1a" stroke-width="0.9"/>
<rect x="326.1" y="276" width="204.4" height="150.7" fill="none" stroke="#1c1c1c" stroke-width="1.1"/>
<line x1="360.17" y1="426.7" x2="360.17" y2="424.5" stroke="#1c1c1c" stroke-width="1" />
<line x1="360.17" y1="276" x2="360.17" y2="278.2" stroke="#1c1c1c" stroke-width="1" />
<text x="349.47" y="440.5" font-size="10" fill="#111" text-anchor="start" font-family='"Liberation Sans", sans-serif' textLength="21.3" lengthAdjust="spacingAndGlyphs" >t=10</text>
<line x1="428.3" y1="426.7" x2="428.3" y2="424.5" stroke="#1c1c1c" stroke-width="1" />
<line x1="428.3" y1="276" x2="428.3" y2="278.2" stroke="#1c1c1c" stroke-width="1" />
<text x="417.6" y="440.5" font-size="10" fill="#111" text-anchor="start" font-family='"Liberation Sans", sans-serif' textLength="21.3" lengthAdjust="spacingAndGlyphs" >t=20</text>
<line x1="496.43" y1="426.7" x2="496.43" y2="424.5" stroke="#1c1c1c" stroke-width="1" />
<line x1="496.43" y1="276" x2="496.43" y2="278.2" stroke="#1c1c1c" stroke-width="1" />
<text x="485.73" y="440.5" font-size="10" fill="#111" text-anchor="start" font-family='"Liberation Sans", sans-serif' textLength="21.3" lengthAdjust="spacingAndGlyphs" >t=30</text>
<line x1="326.1" y1="426.7" x2="328.3" y2="426.7" stroke="#1c1c1c" stroke-width="1" />
<line x1="530.5" y1="426.7" x2="528.3" y2="426.7" stroke="#1c1c1c" stroke-width="1" />
<text x="322.6" y="430.4" font-size="11" fill="#000" text-anchor="end" font-family='"Liberation Serif", serif' >0</text>
<line x1="326.1" y1="399.3" x2="328.3" y2="399.3" stroke="#1c1c1c" stroke-width="1" />
<line x1="530.5" y1="399.3" x2="528.3" y2="399.3" stroke="#1c1c1c" stroke-width="1" />
<text x="322.6" y="403" font-size="11" fill="#000" text-anchor="end" font-family='"Liberation Serif", serif' >0.2</text>
<line x1="326.1" y1="371.9" x2="328.3" y2="371.9" stroke="#1c1c1c" stroke-width="1" />
<line x1="530.5" y1="371.9" x2="528.3" y2="371.9" stroke="#1c1c1c" stroke-width="1" />
<text x="322.6" y="375.6" font-size="11" fill="#000" text-anchor="end" font-family='"Liberation Serif", serif' >0.4</text>
<line x1="326.1" y1="344.5" x2="328.3" y2="344.5" stroke="#1c1c1c" stroke-width="1" />
<line x1="530.5" y1="344.5" x2="528.3" y2="344.5" stroke="#1c1c1c" stroke-width="1" />
<text x="322.6" y="348.2" font-size="11" fill="#000" text-anchor="end" font-family='"Liberation Serif", serif' >0.6</text>
<line x1="326.1" y1="317.1" x2="328.3" y2="317.1" stroke="#1c1c1c" stroke-width="1" />
<line x1="530.5" y1="317.1" x2="528.3" y2="317.1" stroke="#1c1c1c" stroke-width="1" />
<text x="322.6" y="320.8" font-size="11" fill="#000" text-anchor="end" font-family='"Liberation Serif", serif' >0.8</text>
<line x1="326.1" y1="289.7" x2="328.3" y2="289.7" stroke="#1c1c1c" stroke-width="1" />
<line x1="530.5" y1="289.7" x2="528.3" y2="289.7" stroke="#1c1c1c" stroke-width="1" />
<text x="322.6" y="293.4" font-size="11" fill="#000" text-anchor="end" font-family='"Liberation Serif", serif' >1</text>
<text x="389.2" y="455.5" font-size="14" fill="#111" text-anchor="start" font-family='"Liberation Serif", serif' textLength="77.6" lengthAdjust="spacingAndGlyphs" >Time (Days)</text>
<g transform="translate(296 353.1) rotate(-90)">
<text x="-52.2" y="4.3" font-size="13.5" fill="#111" text-anchor="start" font-family='"Liberation Serif", serif' textLength="104.4" lengthAdjust="spacingAndGlyphs" >Tumor population</text>
</g>
<text x="287.8" y="264.5" font-size="18" fill="#000" text-anchor="start" font-family='"Liberation Serif", serif' textLength="23.9" lengthAdjust="spacingAndGlyphs" >(E)</text>
<rect x="328.8" y="279.6" width="190.5" height="18.7" fill="#fff" stroke="#262626" stroke-width="1"/>
<rect x="331.3" y="285" width="14.2" height="8.3" fill="#0072bd" stroke="#1a1a1a" stroke-width="0.9"/>
<rect x="392" y="285" width="14.2" height="8.3" fill="#d95319" stroke="#1a1a1a" stroke-width="0.9"/>
<rect x="459.6" y="285" width="14.2" height="8.3" fill="#edb120" stroke="#1a1a1a" stroke-width="0.9"/>
<text x="347.4" y="292.6" font-size="14" fill="#111" text-anchor="start" font-family='"Liberation Serif", serif' font-style="italic" >T</text>
<text x="355.7" y="294.8" font-size="10.5" fill="#111" text-anchor="start" font-family='"Liberation Serif", serif' font-style="italic" >κ</text>
<text x="366.1" y="292.6" font-size="14" fill="#111" text-anchor="start" font-family='"Liberation Serif", serif' textLength="10.2" lengthAdjust="spacingAndGlyphs" >=</text>
<text x="381" y="292.6" font-size="14" fill="#111" text-anchor="start" font-family='"Liberation Serif", serif' >6</text>
<text x="407.7" y="292.6" font-size="14" fill="#111" text-anchor="start" font-family='"Liberation Serif", serif' font-style="italic" >T</text>
<text x="416" y="294.8" font-size="10.5" fill="#111" text-anchor="start" font-family='"Liberation Serif", serif' font-style="italic" >κ</text>
<text x="426.6" y="292.6" font-size="14" fill="#111" text-anchor="start" font-family='"Liberation Serif", serif' textLength="10.2" lengthAdjust="spacingAndGlyphs" >=</text>
<text x="442.1" y="292.6" font-size="14" fill="#111" text-anchor="start" font-family='"Liberation Serif", serif' >16</text>
<text x="475.2" y="292.6" font-size="14" fill="#111" text-anchor="start" font-family='"Liberation Serif", serif' textLength="42.4" lengthAdjust="spacingAndGlyphs" >control</text>
<line x1="599.5" y1="276" x2="789.2" y2="276" stroke="#1a1a1a" stroke-width="1.1" />
<line x1="599.5" y1="423.5" x2="789.2" y2="423.5" stroke="#1c1c1c" stroke-width="1" />
<line x1="599.5" y1="276" x2="599.5" y2="423.5" stroke="#ff0000" stroke-width="1" />
<line x1="789.2" y1="276" x2="789.2" y2="423.5" stroke="#0000ff" stroke-width="1" />
<line x1="658.78" y1="423.5" x2="658.78" y2="421.3" stroke="#1c1c1c" stroke-width="1" />
<line x1="658.78" y1="276" x2="658.78" y2="278.2" stroke="#1c1c1c" stroke-width="1" />
<line x1="718.06" y1="423.5" x2="718.06" y2="421.3" stroke="#1c1c1c" stroke-width="1" />
<line x1="718.06" y1="276" x2="718.06" y2="278.2" stroke="#1c1c1c" stroke-width="1" />
<line x1="777.34" y1="423.5" x2="777.34" y2="421.3" stroke="#1c1c1c" stroke-width="1" />
<line x1="777.34" y1="276" x2="777.34" y2="278.2" stroke="#1c1c1c" stroke-width="1" />
<line x1="599.5" y1="423.5" x2="601.7" y2="423.5" stroke="#ff0000" stroke-width="1" />
<line x1="789.2" y1="423.5" x2="787" y2="423.5" stroke="#0000ff" stroke-width="1" />
<line x1="599.5" y1="394" x2="601.7" y2="394" stroke="#ff0000" stroke-width="1" />
<line x1="789.2" y1="394" x2="787" y2="394" stroke="#0000ff" stroke-width="1" />
<line x1="599.5" y1="364.5" x2="601.7" y2="364.5" stroke="#ff0000" stroke-width="1" />
<line x1="789.2" y1="364.5" x2="787" y2="364.5" stroke="#0000ff" stroke-width="1" />
<line x1="599.5" y1="335" x2="601.7" y2="335" stroke="#ff0000" stroke-width="1" />
<line x1="789.2" y1="335" x2="787" y2="335" stroke="#0000ff" stroke-width="1" />
<line x1="599.5" y1="305.5" x2="601.7" y2="305.5" stroke="#ff0000" stroke-width="1" />
<line x1="789.2" y1="305.5" x2="787" y2="305.5" stroke="#0000ff" stroke-width="1" />
<line x1="599.5" y1="276" x2="601.7" y2="276" stroke="#ff0000" stroke-width="1" />
<line x1="789.2" y1="276" x2="787" y2="276" stroke="#0000ff" stroke-width="1" />
<line x1="775.3" y1="302.2" x2="785" y2="284" stroke="#5a4a42" stroke-width="1.1" stroke-dasharray="4 3"/>
<polygon points="789,276.8 788.6,286.4 781.8,282.6" fill="#5a4a42"/>
<polyline points="599.5,365.98 611.36,363.76 623.21,354.18 635.07,336.48 646.92,335 658.78,326.15 670.64,321.73 682.49,318.78 694.35,308.45 706.21,295.18 718.06,287.8 729.92,276 741.78,276 753.63,276 765.49,281.01 777.34,284.85 789.2,289.28" fill="none" stroke="#0000ff" stroke-width="1.2" stroke-linejoin="round" />
<polyline points="599.5,285.29 611.36,294.14 623.21,315.82 635.07,330.43 646.92,329.84 658.78,335 670.64,335.74 682.49,334.12 694.35,329.84 706.21,329.1 718.06,319.66 729.92,317.3 741.78,309.48 753.63,305.5 765.49,295.62 777.34,287.5 789.2,276" fill="none" stroke="#ff0000" stroke-width="1.2" stroke-linejoin="round" />
<circle cx="599.5" cy="365.98" r="1.5" fill="#3a3aff" stroke="#0000e0" stroke-width="0.8"/>
<circle cx="611.36" cy="363.76" r="1.5" fill="#3a3aff" stroke="#0000e0" stroke-width="0.8"/>
<circle cx="623.21" cy="354.18" r="1.5" fill="#3a3aff" stroke="#0000e0" stroke-width="0.8"/>
<circle cx="635.07" cy="336.48" r="1.5" fill="#3a3aff" stroke="#0000e0" stroke-width="0.8"/>
<circle cx="646.92" cy="335" r="1.5" fill="#3a3aff" stroke="#0000e0" stroke-width="0.8"/>
<circle cx="658.78" cy="326.15" r="1.5" fill="#3a3aff" stroke="#0000e0" stroke-width="0.8"/>
<circle cx="670.64" cy="321.73" r="1.5" fill="#3a3aff" stroke="#0000e0" stroke-width="0.8"/>
<circle cx="682.49" cy="318.78" r="1.5" fill="#3a3aff" stroke="#0000e0" stroke-width="0.8"/>
<circle cx="694.35" cy="308.45" r="1.5" fill="#3a3aff" stroke="#0000e0" stroke-width="0.8"/>
<circle cx="706.21" cy="295.18" r="1.5" fill="#3a3aff" stroke="#0000e0" stroke-width="0.8"/>
<circle cx="718.06" cy="287.8" r="1.5" fill="#3a3aff" stroke="#0000e0" stroke-width="0.8"/>
<circle cx="729.92" cy="276" r="1.5" fill="#3a3aff" stroke="#0000e0" stroke-width="0.8"/>
<circle cx="741.78" cy="276" r="1.5" fill="#3a3aff" stroke="#0000e0" stroke-width="0.8"/>
<circle cx="753.63" cy="276" r="1.5" fill="#3a3aff" stroke="#0000e0" stroke-width="0.8"/>
<circle cx="765.49" cy="281.01" r="1.5" fill="#3a3aff" stroke="#0000e0" stroke-width="0.8"/>
<circle cx="777.34" cy="284.85" r="1.5" fill="#3a3aff" stroke="#0000e0" stroke-width="0.8"/>
<circle cx="789.2" cy="289.28" r="1.5" fill="#3a3aff" stroke="#0000e0" stroke-width="0.8"/>
<circle cx="599.5" cy="285.29" r="1.5" fill="#ff4a4a" stroke="#e60000" stroke-width="0.8"/>
<circle cx="611.36" cy="294.14" r="1.5" fill="#ff4a4a" stroke="#e60000" stroke-width="0.8"/>
<circle cx="623.21" cy="315.82" r="1.5" fill="#ff4a4a" stroke="#e60000" stroke-width="0.8"/>
<circle cx="635.07" cy="330.43" r="1.5" fill="#ff4a4a" stroke="#e60000" stroke-width="0.8"/>
<circle cx="646.92" cy="329.84" r="1.5" fill="#ff4a4a" stroke="#e60000" stroke-width="0.8"/>
<circle cx="658.78" cy="335" r="1.5" fill="#ff4a4a" stroke="#e60000" stroke-width="0.8"/>
<circle cx="670.64" cy="335.74" r="1.5" fill="#ff4a4a" stroke="#e60000" stroke-width="0.8"/>
<circle cx="682.49" cy="334.12" r="1.5" fill="#ff4a4a" stroke="#e60000" stroke-width="0.8"/>
<circle cx="694.35" cy="329.84" r="1.5" fill="#ff4a4a" stroke="#e60000" stroke-width="0.8"/>
<circle cx="706.21" cy="329.1" r="1.5" fill="#ff4a4a" stroke="#e60000" stroke-width="0.8"/>
<circle cx="718.06" cy="319.66" r="1.5" fill="#ff4a4a" stroke="#e60000" stroke-width="0.8"/>
<circle cx="729.92" cy="317.3" r="1.5" fill="#ff4a4a" stroke="#e60000" stroke-width="0.8"/>
<circle cx="741.78" cy="309.48" r="1.5" fill="#ff4a4a" stroke="#e60000" stroke-width="0.8"/>
<circle cx="753.63" cy="305.5" r="1.5" fill="#ff4a4a" stroke="#e60000" stroke-width="0.8"/>
<circle cx="765.49" cy="295.62" r="1.5" fill="#ff4a4a" stroke="#e60000" stroke-width="0.8"/>
<circle cx="777.34" cy="287.5" r="1.5" fill="#ff4a4a" stroke="#e60000" stroke-width="0.8"/>
<circle cx="789.2" cy="276" r="1.5" fill="#ff4a4a" stroke="#e60000" stroke-width="0.8"/>
<text x="599.5" y="437.8" font-size="11" fill="#000" text-anchor="middle" font-family='"Liberation Serif", serif' >0</text>
<text x="658.78" y="437.8" font-size="11" fill="#000" text-anchor="middle" font-family='"Liberation Serif", serif' >5</text>
<text x="718.06" y="437.8" font-size="11" fill="#000" text-anchor="middle" font-family='"Liberation Serif", serif' >10</text>
<text x="777.34" y="437.8" font-size="11" fill="#000" text-anchor="middle" font-family='"Liberation Serif", serif' >15</text>
<text x="596" y="427.2" font-size="11" fill="#ff0000" text-anchor="end" font-family='"Liberation Serif", serif' >0</text>
<text x="596" y="397.7" font-size="11" fill="#ff0000" text-anchor="end" font-family='"Liberation Serif", serif' >0.2</text>
<text x="596" y="368.2" font-size="11" fill="#ff0000" text-anchor="end" font-family='"Liberation Serif", serif' >0.4</text>
<text x="596" y="338.7" font-size="11" fill="#ff0000" text-anchor="end" font-family='"Liberation Serif", serif' >0.6</text>
<text x="596" y="309.2" font-size="11" fill="#ff0000" text-anchor="end" font-family='"Liberation Serif", serif' >0.8</text>
<text x="596" y="279.7" font-size="11" fill="#ff0000" text-anchor="end" font-family='"Liberation Serif", serif' >1</text>
<text x="792.8" y="427.2" font-size="11" fill="#0000ff" text-anchor="start" font-family='"Liberation Serif", serif' >0.9</text>
<text x="792.8" y="397.7" font-size="11" fill="#0000ff" text-anchor="start" font-family='"Liberation Serif", serif' >0.92</text>
<text x="792.8" y="368.2" font-size="11" fill="#0000ff" text-anchor="start" font-family='"Liberation Serif", serif' >0.94</text>
<text x="792.8" y="338.7" font-size="11" fill="#0000ff" text-anchor="start" font-family='"Liberation Serif", serif' >0.96</text>
<text x="792.8" y="309.2" font-size="11" fill="#0000ff" text-anchor="start" font-family='"Liberation Serif", serif' >0.98</text>
<text x="792.8" y="279.7" font-size="11" fill="#0000ff" text-anchor="start" font-family='"Liberation Serif", serif' >1</text>
<g transform="translate(571 354.4) rotate(-90)">
<text x="-85.5" y="4.3" font-size="13.3" fill="#ff2020" text-anchor="start" font-family='"Liberation Serif", serif' textLength="171" lengthAdjust="spacingAndGlyphs" >Normalized tumor population</text>
</g>
<g transform="translate(822.5 350) rotate(-90)">
<text x="-88.6" y="4.3" font-size="13.3" fill="#2020ff" text-anchor="start" font-family='"Liberation Serif", serif' textLength="177.2" lengthAdjust="spacingAndGlyphs" >Normalized NK cell population</text>
</g>
<text x="564.9" y="264.5" font-size="18" fill="#000" text-anchor="start" font-family='"Liberation Serif", serif' textLength="22.8" lengthAdjust="spacingAndGlyphs" >(F)</text>
<text x="686.3" y="454.9" font-size="17" fill="#222" text-anchor="start" font-family='"Liberation Serif", serif' font-style="italic" textLength="11" lengthAdjust="spacingAndGlyphs" >T</text>
<text x="696.4" y="457.6" font-size="12.5" fill="#222" text-anchor="start" font-family='"Liberation Serif", serif' font-style="italic" >κ</text>
<line x1="681.8" y1="350.8" x2="672.6" y2="338.2" stroke="#0f9d46" stroke-width="1.1" marker-end="url(#ag)"/>
<text x="679.7" y="363.6" font-size="12.5" fill="#333" text-anchor="start" font-family='"Liberation Serif", serif' font-style="italic" textLength="7.6" lengthAdjust="spacingAndGlyphs" >T</text>
<text x="686.9" y="365.6" font-size="8.8" fill="#333" text-anchor="start" font-family='"Liberation Serif", serif' font-style="italic" >κ</text>
<text x="691.5" y="363.6" font-size="12.5" fill="#333" text-anchor="start" font-family='"Liberation Serif", serif' textLength="7.6" lengthAdjust="spacingAndGlyphs" >=</text>
<text x="701.9" y="363.6" font-size="12.5" fill="#333" text-anchor="start" font-family='"Liberation Serif", serif' textLength="5.8" lengthAdjust="spacingAndGlyphs" >6</text>
<text x="758.6" y="314.4" font-size="12.5" fill="#333" text-anchor="start" font-family='"Liberation Serif", serif' font-style="italic" textLength="7.6" lengthAdjust="spacingAndGlyphs" >T</text>
<text x="765.8" y="316.4" font-size="8.8" fill="#333" text-anchor="start" font-family='"Liberation Serif", serif' font-style="italic" >κ</text>
<text x="770.4" y="314.4" font-size="12.5" fill="#333" text-anchor="start" font-family='"Liberation Serif", serif' textLength="7.6" lengthAdjust="spacingAndGlyphs" >=</text>
<text x="777.8" y="314.4" font-size="12.5" fill="#333" text-anchor="start" font-family='"Liberation Serif", serif' textLength="10.9" lengthAdjust="spacingAndGlyphs" >16</text>
</svg></body></html>
